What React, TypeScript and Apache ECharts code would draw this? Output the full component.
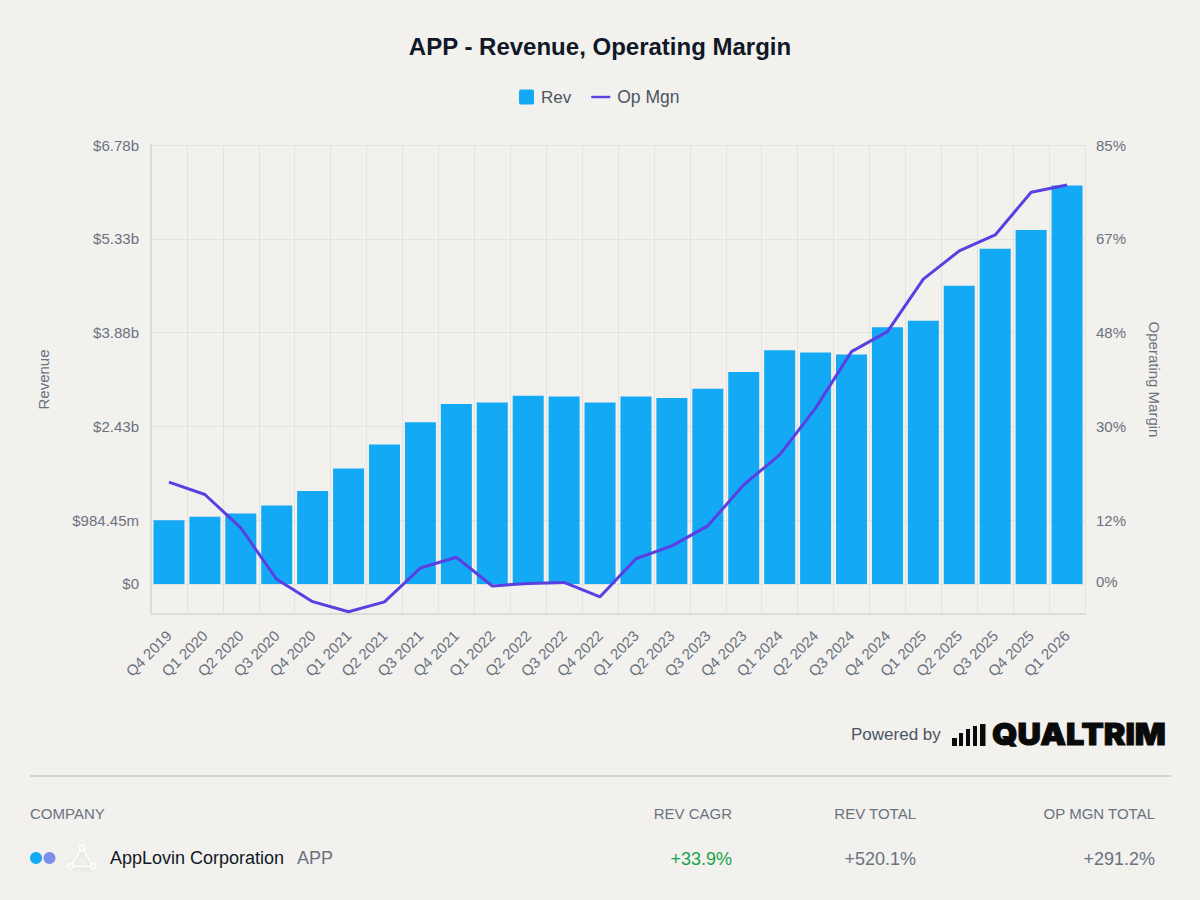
import React, { useEffect, useRef } from "react";
import * as echarts from "echarts";

const quarters = ["Q4 2019","Q1 2020","Q2 2020","Q3 2020","Q4 2020","Q1 2021","Q2 2021","Q3 2021","Q4 2021","Q1 2022","Q2 2022","Q3 2022","Q4 2022","Q1 2023","Q2 2023","Q3 2023","Q4 2023","Q1 2024","Q2 2024","Q3 2024","Q4 2024","Q1 2025","Q2 2025","Q3 2025","Q4 2025","Q1 2026"];
const revenue = [984,1036,1087,1210,1437,1781,2151,2498,2776,2800,2907,2892,2800,2892,2869,3015,3270,3609,3571,3540,3961,4064,4604,5175,5463,6150];
const opMargin = [19.4,17.0,10.5,0.5,-3.85,-5.8,-3.9,2.7,4.8,-0.8,-0.3,-0.1,-2.9,4.5,7,10.9,18.9,24.7,33.8,44.8,48.7,58.9,64.4,67.5,75.8,77.2];
const revTickValues = [0,984.45,2432.15,3879.85,5327.55,6775.25];
const revTickLabels = ["$0","$984.45m","$2.43b","$3.88b","$5.33b","$6.78b"];
const revMin = -463.25;
const marginTickValues = [0,12,30.25,48.5,66.75,85];
const marginTickLabels = ["0%","12%","30%","48%","67%","85%"];
const marginMin = -6.25;

const FONT = "'Liberation Sans', Arial, sans-serif";
const GREY = "#6b7280";
const BG = "#f2f1ed";
const GRID = "#e3e2dd";
const BLUE = "#14a9f5";
const PURPLE = "#5a40e2";

const txt = (x: number, y: number, text: string, fontSize: number, fill: string, align = "left", extra: any = {}) => ({
  type: "text", x, y,
  style: { text, fontSize, fill, align, verticalAlign: "middle", fontFamily: FONT, ...extra },
});

export default function App() {
  const ref = useRef<HTMLDivElement>(null);
  useEffect(() => {
    const chart = echarts.init(ref.current!, null, { renderer: "svg" });
    const logoBars = [[952,5,8],[959,4,13],[966,4,17],[973,4,20],[980,5.5,22]];
    const node = { fill: BG, stroke: "#ffffff", lineWidth: 1.3 };
    chart.setOption({
      animation: false,
      backgroundColor: BG,
      textStyle: { fontFamily: FONT },
      title: {
        text: "APP - Revenue, Operating Margin",
        left: "center", top: 29,
        textStyle: { fontSize: 24, fontWeight: "bold", color: "#111827", fontFamily: FONT },
      },
      legend: {
        top: 83, left: 514, itemWidth: 19, itemHeight: 15, itemGap: 20, selectedMode: false,
        textStyle: { fontSize: 17, color: "#4b5563", fontFamily: FONT },
        data: [
          { name: "Rev", icon: "path://M2 0H13A2 2 0 0 1 15 2V13A2 2 0 0 1 13 15H2A2 2 0 0 1 0 13V2A2 2 0 0 1 2 0Z" },
          { name: "Op Mgn", icon: "path://M0 0H19V2.4H0Z", textStyle: { fontSize: 17.5, padding: [0, 0, 0, 2] } },
        ],
      },
      grid: { left: 151, right: 115, top: 145, bottom: 286 },
      xAxis: {
        type: "category", data: quarters, boundaryGap: true,
        axisLine: { onZero: false, lineStyle: { color: "#dcdbd6", width: 2 } },
        axisTick: { show: false },
        splitLine: { show: true, interval: 0, lineStyle: { color: GRID, width: 1 } },
        axisLabel: { interval: 0, rotate: 45, margin: 19, fontSize: 15, color: GREY, fontFamily: FONT },
      },
      yAxis: [
        {
          type: "value", min: revMin, max: revTickValues[5], position: "left",
          name: "Revenue", nameLocation: "middle", nameGap: 100, nameRotate: 90,
          nameTextStyle: { fontSize: 15, color: GREY, fontFamily: FONT },
          axisLine: { show: true, lineStyle: { color: "#dcdbd6", width: 2 } },
          axisTick: { show: false, customValues: revTickValues },
          splitLine: { show: true, lineStyle: { color: GRID, width: 1 } },
          axisLabel: {
            customValues: revTickValues, margin: 12, fontSize: 15, color: GREY, fontFamily: FONT,
            formatter: (v: number) => revTickLabels[revTickValues.indexOf(v)] ?? "",
          },
        },
        {
          type: "value", min: marginMin, max: 85, position: "right",
          name: "Operating Margin", nameLocation: "middle", nameGap: 62, nameRotate: -90,
          nameTextStyle: { fontSize: 15, color: GREY, fontFamily: FONT },
          axisLine: { show: true, lineStyle: { color: GRID, width: 1 } },
          axisTick: { show: false, customValues: marginTickValues },
          splitLine: { show: false },
          axisLabel: {
            customValues: marginTickValues, margin: 11, fontSize: 15, color: GREY, fontFamily: FONT,
            formatter: (v: number) => marginTickLabels[marginTickValues.indexOf(v)] ?? "",
          },
        },
      ],
      series: [
        {
          name: "Rev", type: "bar", yAxisIndex: 0, data: revenue, barWidth: 31,
          itemStyle: { color: BLUE, borderRadius: 0 },
        },
        {
          name: "Op Mgn", type: "line", yAxisIndex: 1, data: opMargin, showSymbol: false, symbol: "none",
          lineStyle: { color: PURPLE, width: 3 }, itemStyle: { color: PURPLE }, z: 5,
        },
      ],
      graphic: {
        elements: [
          txt(851, 734, "Powered by", 17, "#4b5563"),
          ...logoBars.map(([x, w, h]) => ({
            type: "rect", shape: { x, y: 746 - h, width: w, height: h }, style: { fill: "#0a0a0a" },
          })),
          {
            type: "text", x: 992, y: 734.5, scaleX: 1.08,
            style: { text: "QUALTRIM", fontSize: 30, fill: "#0a0a0a", stroke: "#0a0a0a", lineWidth: 1, align: "left", verticalAlign: "middle", fontFamily: "Inter, sans-serif", fontWeight: 900 },
          },
          { type: "rect", shape: { x: 30, y: 775, width: 1141, height: 2 }, style: { fill: "#d5d4cf" } },
          txt(30, 813, "COMPANY", 15, GREY),
          txt(732, 813, "REV CAGR", 15, GREY, "right"),
          txt(916, 813, "REV TOTAL", 15, GREY, "right"),
          txt(1155, 813, "OP MGN TOTAL", 15, GREY, "right"),
          { type: "circle", shape: { cx: 36, cy: 858, r: 6 }, style: { fill: BLUE } },
          { type: "circle", shape: { cx: 49.5, cy: 858, r: 6 }, style: { fill: "#7b8ee8" } },
          { type: "polygon", shape: { points: [[82, 848], [70.7, 866.3], [93.3, 866.3]] }, style: { fill: "none", stroke: "#ffffff", lineWidth: 1.3, shadowBlur: 4, shadowColor: "rgba(0,0,0,0.12)", shadowOffsetY: 2 } },
          { type: "circle", shape: { cx: 82, cy: 848, r: 2.8 }, style: node },
          { type: "circle", shape: { cx: 70.7, cy: 866.3, r: 2.8 }, style: node },
          { type: "circle", shape: { cx: 93.3, cy: 866.3, r: 2.8 }, style: node },
          txt(110, 858, "AppLovin Corporation", 18, "#111827"),
          txt(297, 858, "APP", 18, GREY),
          txt(732, 858.5, "+33.9%", 18, "#16a34a", "right"),
          txt(916, 858.5, "+520.1%", 18, GREY, "right"),
          txt(1155, 858.5, "+291.2%", 18, GREY, "right"),
        ],
      },
    });
    return () => chart.dispose();
  }, []);
  return <div ref={ref} style={{ position: "fixed", left: 0, top: 0, width: 1200, height: 900 }} />;
}
